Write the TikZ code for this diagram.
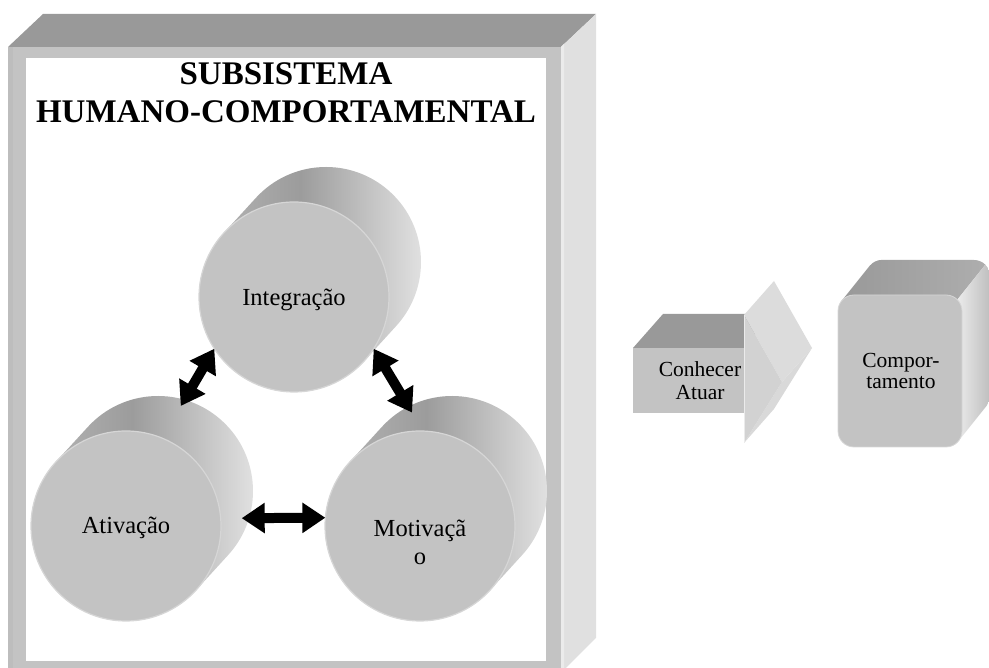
\documentclass[tikz,border=0pt]{standalone}
\usepackage{fontspec}
\setmainfont{Liberation Serif}
\usetikzlibrary{arrows.meta,calc}

\definecolor{topgray}{HTML}{999999}
\definecolor{framegray}{HTML}{C3C3C3}
\definecolor{framedark}{HTML}{BDBDBD}
\definecolor{sidegray}{HTML}{E0E0E0}
\definecolor{sidelight}{HTML}{EBEBEB}
\definecolor{facegray}{HTML}{C3C3C3}
\definecolor{rimgray}{HTML}{D6D6D6}
\definecolor{cylA}{HTML}{BABABA}
\definecolor{cylB}{HTML}{9C9C9C}
\definecolor{cylC}{HTML}{E6E6E6}
\definecolor{headfront}{HTML}{D2D2D2}
\definecolor{headtop}{HTML}{DCDCDC}
\definecolor{headlow}{HTML}{D9D9D9}

% side of a cylinder: dark on the upper left, light on the right
\pgfdeclarehorizontalshading{cylside}{100bp}{color(0bp)=(cylA); color(25bp)=(cylA); color(48bp)=(cylB); color(75bp)=(cylC); color(100bp)=(cylC)}

\begin{document}
\begin{tikzpicture}[x=1pt,y=1pt,
  cylface/.style={circle, fill=facegray, draw=rimgray, line width=1.2pt,
    minimum size=190pt, inner sep=0pt, outer sep=0pt},
  cylback/.style={circle, minimum size=176pt, inner sep=0pt, outer sep=0pt},
  lbl/.style={font=\fontsize{24.5}{28}\selectfont, align=center, text=black, inner sep=0pt},
  smalllbl/.style={font=\fontsize{21.5}{23}\selectfont, align=center, text=black, inner sep=0pt},
  link/.style={line width=10pt, {Triangle[width=29pt,length=23pt]}-{Triangle[width=29pt,length=23pt]}},
]
\useasboundingbox (0,0) rectangle (989,668);
\clip (0,0) rectangle (989,668);

% ---------- the subsystem box ----------
\fill[topgray] (8,621) -- (43,654) -- (596,654) -- (561,621) -- cycle;
\fill[sidegray] (561,621) -- (596,654) -- (596,30) -- (561,-5) -- cycle;
\fill[sidelight] (561,621) -- (564,624) -- (564,-2) -- (561,-5) -- cycle;
\fill[framegray] (8,-5) rectangle (561,621);
\fill[framedark] (8,-5) rectangle (13,621);
\fill[white] (26,7) rectangle (546,610);

\node[font=\bfseries\fontsize{33}{38}\selectfont, align=center, inner sep=0pt]
  (title) at (286,575) {SUBSISTEMA\\HUMANO-COMPORTAMENTAL};

% ---------- cylinders ----------
\coordinate (iF) at (294,371);
\coordinate (aF) at (126,142);
\coordinate (mF) at (420,142);
\foreach \c in {i,a,m}{
  \coordinate (\c B) at ($(\c F)+(32,35)$);
  \shade[shading=cylside]
    ($(\c F)+(137.6:95)$) arc[start angle=137.6, end angle=317.6, radius=95]
    -- ($(\c B)+(317.6:95)$) arc[start angle=317.6, end angle=497.6, radius=95]
    -- cycle;
}
\node[cylback] (integB) at (iB) {};
\node[cylback] (ativB) at (aB) {};
\node[cylback] (motB) at (mB) {};
\node[cylface] (integ) at (iF) {};
\node[cylface] (ativ) at (aF) {};
\node[cylface] (mot) at (mF) {};
\node[lbl] (integT) at (294,368) {Integração};
\node[lbl] (ativT) at (126,140) {Ativação};
\node[lbl] (motT) at (420,126) {Motivaçã\\o};

% ---------- links between the three parts ----------
\draw[link] (integ.213) -- (ativB.75);
\draw[link] (integ.327) -- (motB.117);
\draw[link] (ativB.-18) -- (mot.175);

% ---------- extruded arrow ----------
\fill[topgray] (633,320) -- (663,354) -- (774,354) -- (744,320) -- cycle;
\fill[facegray] (633,255) rectangle (744,320);
\fill[headlow] (782,286) -- (812,320) -- (774,259) -- (744,225) -- cycle;
\fill[headtop] (744,353) -- (774,387) -- (812,320) -- (782,286) -- cycle;
\fill[headfront] (744,353) -- (782,286) -- (744,225) -- cycle;
\draw[white!92!black, line width=0.8pt] (744.5,353) -- (744.5,225);
\node[smalllbl] (act) at (700,287) {Conhecer\\Atuar};

% ---------- behaviour block ----------
\shade[left color=topgray, right color=topgray!80!white]
  (841.6,367.1) -- (869.6,402.1) arc[start angle=141.3, end angle=90, radius=16]
  -- (974,408) arc[start angle=90, end angle=45, radius=16]
  -- (957.3,368.3) arc[start angle=45, end angle=90, radius=16]
  -- (854,373) arc[start angle=90, end angle=141.3, radius=16] -- cycle;
\shade[left color=sidelight, right color=sidegray!85!black]
  (957.3,368.3) -- (985.3,403.3) arc[start angle=45, end angle=0, radius=16]
  -- (990,272) arc[start angle=0, end angle=-38.7, radius=16]
  -- (958.4,226.9) arc[start angle=-38.7, end angle=0, radius=16]
  -- (962,357) arc[start angle=0, end angle=45, radius=16] -- cycle;
\node[draw=rimgray, line width=0.8pt, fill=facegray, rounded corners=16pt,
  minimum width=124pt, minimum height=152pt, inner sep=0pt] (beh) at (900,297) {};
\node[smalllbl, font=\fontsize{21.5}{21}\selectfont] (behT) at (901,297) {Compor-\\tamento};
\end{tikzpicture}
\end{document}
